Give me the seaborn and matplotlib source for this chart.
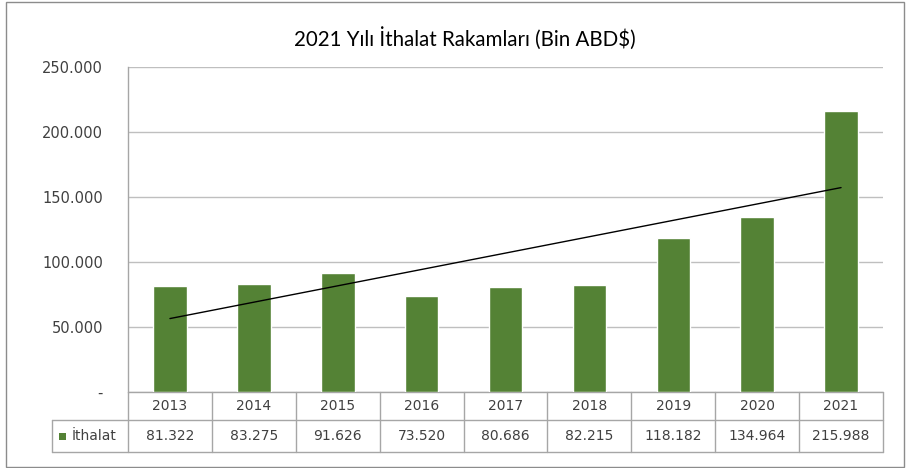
import numpy as np
import matplotlib
matplotlib.use("Agg")
import matplotlib.pyplot as plt
import matplotlib.transforms as mtransforms
from matplotlib.patches import Rectangle
from matplotlib.lines import Line2D
import seaborn as sns

# ---- data ----
years = ["2013", "2014", "2015", "2016", "2017", "2018", "2019", "2020", "2021"]
ithalat = [81322, 83275, 91626, 73520, 80686, 82215, 118182, 134964, 215988]
value_labels = ["81.322", "83.275", "91.626", "73.520", "80.686", "82.215",
                "118.182", "134.964", "215.988"]
series_name = "İthalat"
title = "2021 Yılı İthalat Rakamları (Bin ABD$)"
yticks = [0, 50000, 100000, 150000, 200000, 250000]

sns.set_theme(style="white")
plt.rcParams['font.family'] = ['DejaVu Sans']

GREEN = "#548235"
GRID = "#BFBFBF"
TBL = "#A6A6A6"
TXT = "#404040"

W, H = 909, 468
fig = plt.figure(figsize=(W / 100, H / 100), dpi=100)

# plot area in pixels
L, R, T, B = 128, 883, 67, 392
ax = fig.add_axes([L / W, 1 - B / H, (R - L) / W, (B - T) / H])

sns.barplot(x=years, y=ithalat, color=GREEN, saturation=1, width=0.4,
            edgecolor="white", linewidth=1.0, ax=ax, zorder=3)

# linear trend line
xi = np.arange(len(ithalat))
coef = np.polyfit(xi, ithalat, 1)
ax.plot(xi, np.polyval(coef, xi), color="black", lw=1.0, zorder=4)

ax.set_xlim(-0.5, len(years) - 0.5)
ax.set_ylim(0, 250000)
ax.set_yticks(yticks)
ax.set_yticklabels(['-' if v == 0 else f"{v:,}".replace(",", ".") for v in yticks],
                   fontsize=10.5, color=TXT)
ax.tick_params(axis='y', length=0, pad=18)
ax.set_xticks([])
ax.set_xlabel("")
ax.set_ylabel("")
ax.yaxis.grid(True, color=GRID, lw=1.0, zorder=0)
ax.set_axisbelow(True)
for s in ["top", "right", "bottom"]:
    ax.spines[s].set_visible(False)
ax.spines["left"].set_color(TBL)
ax.spines["left"].set_linewidth(1.0)

# ---- data table below the plot ----
tr = mtransforms.blended_transform_factory(ax.transData, ax.transAxes)
ph = B - T
y_hdr_bot = -(420 - B) / ph
y_val_bot = -(452 - B) / ph
n = len(years)
lbl_left = -0.5 - (L - 52) / ((R - L) / n)

def hline(x0, x1, y):
    ax.add_line(Line2D([x0, x1], [y, y], transform=tr, color=TBL, lw=1.0, clip_on=False))

def vline(x, y0, y1):
    ax.add_line(Line2D([x, x], [y0, y1], transform=tr, color=TBL, lw=1.0, clip_on=False))

hline(-0.5, n - 0.5, 0)
hline(lbl_left, n - 0.5, y_hdr_bot)
hline(lbl_left, n - 0.5, y_val_bot)
vline(lbl_left, y_hdr_bot, y_val_bot)
for k in range(n + 1):
    vline(k - 0.5, 0, y_val_bot)

for i, (yr, vl) in enumerate(zip(years, value_labels)):
    ax.text(i, y_hdr_bot / 2, yr, transform=tr, ha="center", va="center",
            fontsize=10, color=TXT, clip_on=False)
    ax.text(i, (y_hdr_bot + y_val_bot) / 2, vl, transform=tr, ha="center",
            va="center", fontsize=10, color=TXT, clip_on=False)

# legend key + row label
fig.patches.append(Rectangle((59 / W, 1 - 440 / H), 7 / W, 7 / H,
                             transform=fig.transFigure, facecolor=GREEN,
                             edgecolor="none"))
fig.text(72 / W, 1 - 436 / H, series_name, ha="left", va="center",
         fontsize=10, color=TXT)

# title
fig.text(465 / W, 1 - 38 / H, title, ha="center", va="center",
         fontsize=14.8, color="black", family=["Lato", "DejaVu Sans"])

# outer chart border
fig.patches.append(Rectangle((6 / W, 1.5 / H), (904 - 6) / W, (466 - 1.5) / H,
                             transform=fig.transFigure, facecolor="none",
                             edgecolor="#8C8C8C", lw=1.0))

fig.savefig("out.png", dpi=100, facecolor="white")
